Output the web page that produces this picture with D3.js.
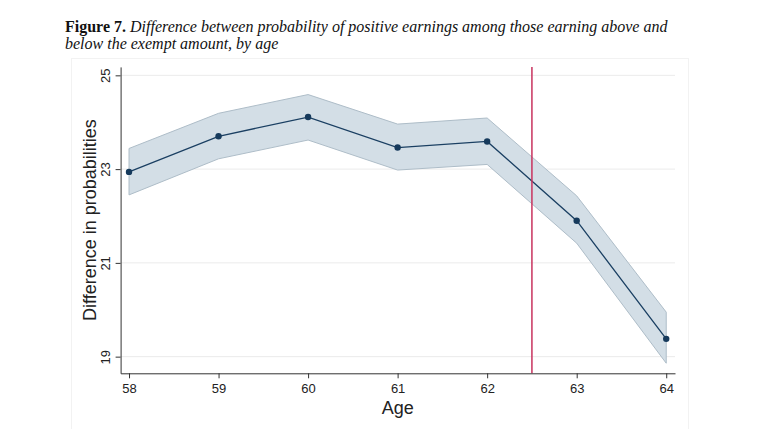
<!DOCTYPE html>
<html>
<head>
<meta charset="utf-8">
<script src="https://cdn.jsdelivr.net/npm/d3@7"></script>
<style>
  body { margin: 0; background: #fff; }
  svg { display: block; }
</style>
</head>
<body>
<div id="chart"></div>
<script>
// ages and estimates
const ages = [58, 59, 60, 61, 62, 63, 64];
const estimate = [22.94, 23.70, 24.11, 23.46, 23.59, 21.90, 19.38];
const upperCI = [23.44, 24.19, 24.59, 23.96, 24.09, 22.43, 19.95];
const lowerCI = [22.45, 23.22, 23.62, 22.98, 23.10, 21.42, 18.86];
const yTicks = [19, 21, 23, 25];
const cutoffAge = 62.5;

const width = 763, height = 429;

const svg = d3.select('#chart').append('svg')
    .attr('width', width)
    .attr('height', height);

// faint graph region frame
svg.append('rect')
    .attr('x', 71.5).attr('y', 58.5)
    .attr('width', 617).attr('height', 380)
    .attr('fill', 'none')
    .attr('stroke', '#f2f2f2');

// title
const title = svg.append('text')
    .attr('x', 65)
    .attr('y', 32)
    .style('font-family', '"Liberation Serif", "Times New Roman", serif')
    .style('font-size', '16px')
    .style('fill', '#111');
title.append('tspan').style('font-weight', 'bold').text('Figure 7. ');
title.append('tspan').style('font-style', 'italic')
    .text('Difference between probability of positive earnings among those earning above and');
svg.append('text')
    .attr('x', 65)
    .attr('y', 49)
    .style('font-family', '"Liberation Serif", "Times New Roman", serif')
    .style('font-size', '16px')
    .style('font-style', 'italic')
    .style('fill', '#111')
    .text('below the exempt amount, by age');

// scales
const xScale = d3.scaleLinear().domain([57.906, 64.098]).range([120.6, 675]);
const yScale = d3.scaleLinear().domain([18.645, 25.18]).range([373.3, 66.9]);

const rows = ages.map((a, i) => ({age: a, est: estimate[i], lo: lowerCI[i], hi: upperCI[i]}));

// gridlines
svg.append('g').selectAll('line')
    .data(yTicks)
    .enter().append('line')
    .attr('x1', xScale.range()[0]).attr('x2', xScale.range()[1])
    .attr('y1', d => yScale(d)).attr('y2', d => yScale(d))
    .attr('stroke', '#ebebeb')
    .attr('stroke-width', 1);

// confidence band
svg.append('path')
    .datum(rows)
    .attr('fill', '#d3dee6')
    .attr('stroke', '#aebdc8')
    .attr('stroke-width', 1)
    .attr('d', d3.area()
        .x(d => xScale(d.age))
        .y0(d => yScale(d.lo))
        .y1(d => yScale(d.hi)));

// estimate line
svg.append('path')
    .datum(rows)
    .attr('fill', 'none')
    .attr('stroke', '#1a3f62')
    .attr('stroke-width', 1.3)
    .attr('d', d3.line()
        .x(d => xScale(d.age))
        .y(d => yScale(d.est)));

svg.append('g').selectAll('circle')
    .data(rows)
    .enter().append('circle')
    .attr('cx', d => xScale(d.age))
    .attr('cy', d => yScale(d.est))
    .attr('r', 3.2)
    .attr('fill', '#163a5c');

// cutoff line
svg.append('line')
    .attr('x1', xScale(cutoffAge)).attr('x2', xScale(cutoffAge))
    .attr('y1', yScale.range()[1]).attr('y2', yScale.range()[0])
    .attr('stroke', '#c8325e')
    .attr('stroke-width', 1.5);

// axes
const xAxis = svg.append('g')
    .attr('transform', `translate(0, ${yScale.range()[0]})`)
    .call(d3.axisBottom(xScale).tickValues(ages).tickFormat(d3.format('d')).tickSize(5).tickSizeOuter(0));

const yAxis = svg.append('g')
    .attr('transform', `translate(${xScale.range()[0]}, 0)`)
    .call(d3.axisLeft(yScale).tickValues(yTicks).tickFormat(d3.format('d')).tickSize(5).tickSizeOuter(0));

[xAxis, yAxis].forEach(g => {
    g.select('.domain').attr('stroke', '#333');
    g.selectAll('.tick line').attr('stroke', '#333');
    g.selectAll('.tick text')
        .style('font-family', '"Liberation Sans", Arial, sans-serif')
        .style('font-size', '13px')
        .style('fill', '#222');
});

xAxis.selectAll('.tick text').attr('y', 10).attr('dy', '0.71em');

yAxis.selectAll('.tick text')
    .attr('x', 0).attr('y', 0).attr('dy', 0)
    .attr('text-anchor', 'middle')
    .attr('transform', 'translate(-11, 0) rotate(-90)');

// axis titles
svg.append('text')
    .attr('transform', `translate(96, ${(yScale.range()[0] + yScale.range()[1]) / 2}) rotate(-90)`)
    .attr('text-anchor', 'middle')
    .style('font-family', '"Liberation Sans", Arial, sans-serif')
    .style('font-size', '18px')
    .style('fill', '#222')
    .text('Difference in probabilities');

svg.append('text')
    .attr('x', (xScale.range()[0] + xScale.range()[1]) / 2)
    .attr('y', 414)
    .attr('text-anchor', 'middle')
    .style('font-family', '"Liberation Sans", Arial, sans-serif')
    .style('font-size', '18px')
    .style('fill', '#222')
    .text('Age');
</script>
</body>
</html>
